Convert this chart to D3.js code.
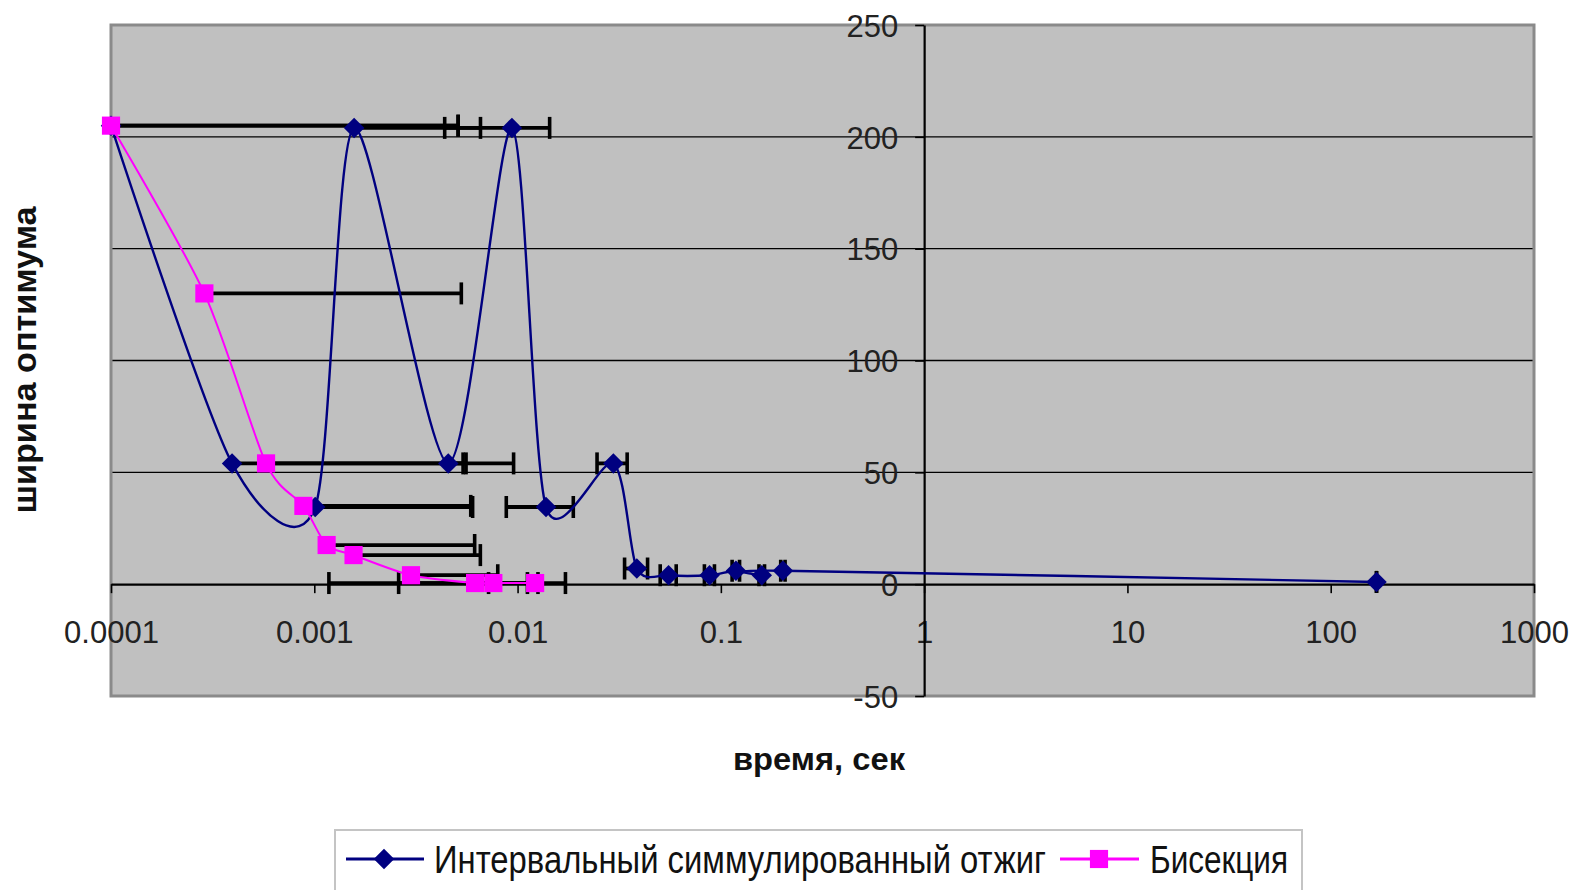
<!DOCTYPE html>
<html>
<head>
<meta charset="utf-8">
<script src="https://cdn.jsdelivr.net/npm/d3@7"></script>
<style>
  body { margin: 0; background: #fff; }
  svg { display: block; }
  text { font-family: "Liberation Sans", Arial, sans-serif; }
</style>
</head>
<body>
<svg id="chart" width="1581" height="890"></svg>
<script>
// Интервальный симмулированный отжиг: time (s) and optimum width
const annealTime  = [0.0001, 0.000394, 0.00101, 0.00157, 0.00456, 0.00938, 0.0138, 0.0296, 0.0386, 0.0553, 0.088, 0.1186, 0.159, 0.202, 168];
const annealWidth = [205, 54, 34.5, 204, 54, 204, 34.5, 54, 7, 4, 4, 6, 4, 6, 1];
const annealErr   = [0.005, 0.005, 0.005, 0.005, 0.005, 0.005, 0.005, 0.005, 0.005, 0.005, 0.005, 0.005, 0.005, 0.005, 0.005];

// Бисекция: time (s) and optimum width
const bisectTime  = [0.0001, 0.000288, 0.000579, 0.000884, 0.00115, 0.00156, 0.00299, 0.00618, 0.0076, 0.0122];
const bisectWidth = [205, 130, 54, 35, 17.5, 13, 4, 0.5, 0.5, 0.5];
const bisectErr   = [0.005, 0.005, 0.005, 0.005, 0.005, 0.005, 0.005, 0.005, 0.005, 0.005];

const xTicks = [0.0001, 0.001, 0.01, 0.1, 1, 10, 100, 1000];
const xTickLabels = ["0.0001", "0.001", "0.01", "0.1", "1", "10", "100", "1000"];
const yTicks = [-50, 0, 50, 100, 150, 200, 250];
const yTickLabels = ["-50", "0", "50", "100", "150", "200", "250"];

const seriesNames = ["Интервальный симмулированный отжиг", "Бисекция"];
const xTitle = "время, сек";
const yTitle = "ширина оптимума";

const NAVY = "#000080", MAGENTA = "#ff00ff";
const plot = { left: 111, right: 1534, top: 25, bottom: 696 };

const svg = d3.select("#chart");
const x = d3.scaleLog().domain([1e-4, 1000]).range([plot.left, plot.right]);
const y = d3.scaleLinear().domain([-50, 250]).range([plot.bottom, plot.top]);

// plot background
svg.append("rect")
  .attr("x", plot.left).attr("y", plot.top)
  .attr("width", plot.right - plot.left).attr("height", plot.bottom - plot.top)
  .attr("fill", "#c0c0c0");

// horizontal gridlines
svg.append("g").selectAll("line")
  .data(yTicks.filter(v => v > -50 && v < 250 && v !== 0))
  .join("line")
  .attr("x1", plot.left).attr("x2", plot.right)
  .attr("y1", d => y(d)).attr("y2", d => y(d))
  .attr("stroke", "#000").attr("stroke-width", 1.4);

// plot frame
svg.append("rect")
  .attr("x", plot.left).attr("y", plot.top)
  .attr("width", plot.right - plot.left).attr("height", plot.bottom - plot.top)
  .attr("fill", "none").attr("stroke", "#8a8a8a").attr("stroke-width", 3);

// x axis crossing at y = 0
const gx = svg.append("g")
  .attr("transform", `translate(0,${y(0)})`)
  .call(d3.axisBottom(x).tickValues(xTicks)
    .tickFormat(d => xTickLabels[xTicks.indexOf(d)])
    .tickSizeInner(9).tickSizeOuter(0));
gx.attr("font-family", "Liberation Sans, Arial, sans-serif").attr("font-size", 31);
gx.select(".domain").attr("stroke", "#000").attr("stroke-width", 2.2);
gx.selectAll(".tick line").attr("stroke", "#000").attr("stroke-width", 1.6);
gx.selectAll(".tick text").attr("y", 48).attr("dy", "0.36em").attr("fill", "#222");

// y axis crossing at x = 1
const gy = svg.append("g")
  .attr("transform", `translate(${x(1)},0)`)
  .call(d3.axisLeft(y).tickValues(yTicks)
    .tickFormat(d => yTickLabels[yTicks.indexOf(d)])
    .tickSizeInner(9).tickSizeOuter(0));
gy.attr("font-family", "Liberation Sans, Arial, sans-serif").attr("font-size", 31);
gy.select(".domain").attr("stroke", "#000").attr("stroke-width", 2.2);
gy.selectAll(".tick line").attr("stroke", "#000").attr("stroke-width", 1.6);
gy.selectAll(".tick text").attr("x", -26).attr("dy", "0.36em").attr("fill", "#222");

// x error bars; the minus side is left out where it would reach a non-positive time
function errorBars(times, widths, errs) {
  return times.map((t, i) => {
    const lo = t - errs[i];
    return { w: widths[i], from: lo > 0 ? lo : t, to: t + errs[i], capLo: lo > 0 };
  });
}
const bars = errorBars(annealTime, annealWidth, annealErr)
  .concat(errorBars(bisectTime, bisectWidth, bisectErr));
const gErr = svg.append("g").attr("stroke", "#000");
gErr.selectAll("line.bar").data(bars).join("line").attr("class", "bar")
  .attr("x1", d => x(d.from)).attr("x2", d => x(d.to))
  .attr("y1", d => y(d.w)).attr("y2", d => y(d.w))
  .attr("stroke-width", 3.8);
gErr.selectAll("line.capHi").data(bars).join("line").attr("class", "capHi")
  .attr("x1", d => x(d.to)).attr("x2", d => x(d.to))
  .attr("y1", d => y(d.w) - 11).attr("y2", d => y(d.w) + 11)
  .attr("stroke-width", 3.6);
gErr.selectAll("line.capLo").data(bars.filter(d => d.capLo)).join("line").attr("class", "capLo")
  .attr("x1", d => x(d.from)).attr("x2", d => x(d.from))
  .attr("y1", d => y(d.w) - 11).attr("y2", d => y(d.w) + 11)
  .attr("stroke-width", 3.6);

// smoothed series lines
const line = d3.line().x(d => x(d[0])).y(d => y(d[1])).curve(d3.curveCardinal.tension(0.2));
const annealPts = annealTime.map((t, i) => [t, annealWidth[i]]);
const bisectPts = bisectTime.map((t, i) => [t, bisectWidth[i]]);
svg.append("path").attr("d", line(annealPts))
  .attr("fill", "none").attr("stroke", NAVY).attr("stroke-width", 2.4);
svg.append("path").attr("d", line(bisectPts))
  .attr("fill", "none").attr("stroke", MAGENTA).attr("stroke-width", 2);

// markers
const diamond = d3.symbol(d3.symbolSquare, 210);
const square = d3.symbol(d3.symbolSquare, 330);
svg.append("g").selectAll("path").data(annealPts).join("path")
  .attr("d", diamond)
  .attr("transform", d => `translate(${x(d[0])},${y(d[1])}) rotate(45)`)
  .attr("fill", NAVY);
svg.append("g").selectAll("path").data(bisectPts).join("path")
  .attr("d", square)
  .attr("transform", d => `translate(${x(d[0])},${y(d[1])})`)
  .attr("fill", MAGENTA);

// axis titles
svg.append("text")
  .attr("transform", "translate(24,360) rotate(-90)")
  .attr("text-anchor", "middle").attr("dy", "0.36em")
  .attr("font-size", 34).attr("font-weight", "bold").attr("fill", "#111")
  .attr("textLength", 307).attr("lengthAdjust", "spacingAndGlyphs")
  .text(yTitle);
svg.append("text")
  .attr("x", 819).attr("y", 758)
  .attr("text-anchor", "middle").attr("dy", "0.36em")
  .attr("font-size", 32).attr("font-weight", "bold").attr("fill", "#111")
  .attr("textLength", 172).attr("lengthAdjust", "spacingAndGlyphs")
  .text(xTitle);

// legend
const lg = svg.append("g");
lg.append("rect").attr("x", 335).attr("y", 830).attr("width", 967).attr("height", 80)
  .attr("fill", "#fff").attr("stroke", "#c4c4c4").attr("stroke-width", 2);
const legendY = 859;
lg.append("line").attr("x1", 346).attr("x2", 424).attr("y1", legendY).attr("y2", legendY)
  .attr("stroke", NAVY).attr("stroke-width", 3);
lg.append("path").attr("d", diamond).attr("transform", `translate(384,${legendY}) rotate(45)`).attr("fill", NAVY);
lg.append("text").attr("x", 434).attr("y", legendY).attr("dy", "0.36em")
  .attr("font-size", 38).attr("fill", "#111")
  .attr("textLength", 612).attr("lengthAdjust", "spacingAndGlyphs")
  .text(seriesNames[0]);
lg.append("line").attr("x1", 1060).attr("x2", 1139).attr("y1", legendY).attr("y2", legendY)
  .attr("stroke", MAGENTA).attr("stroke-width", 3);
lg.append("path").attr("d", square).attr("transform", `translate(1099,${legendY})`).attr("fill", MAGENTA);
lg.append("text").attr("x", 1150).attr("y", legendY).attr("dy", "0.36em")
  .attr("font-size", 38).attr("fill", "#111")
  .attr("textLength", 138).attr("lengthAdjust", "spacingAndGlyphs")
  .text(seriesNames[1]);
</script>
</body>
</html>
